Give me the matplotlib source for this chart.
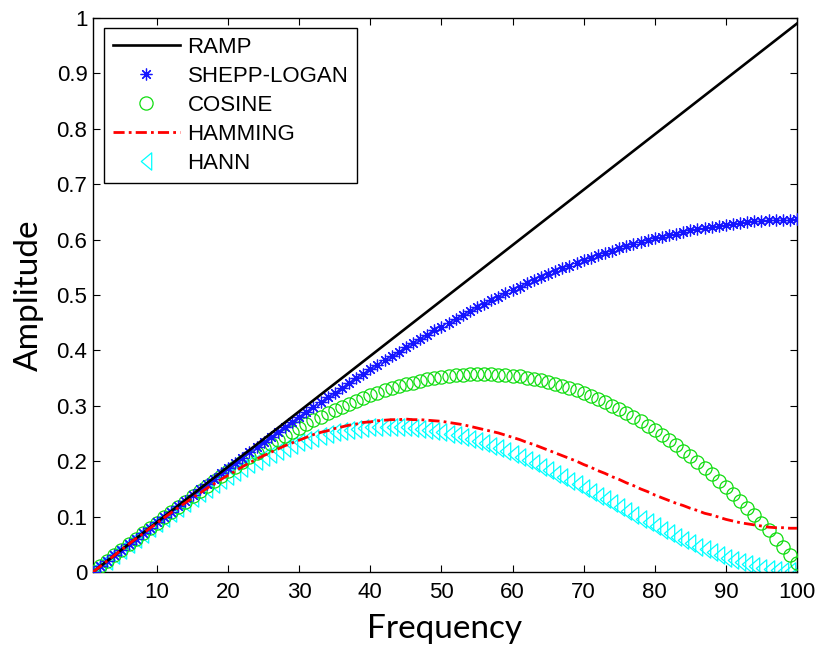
import matplotlib
matplotlib.use("Agg")
import matplotlib.pyplot as plt
from matplotlib.path import Path

freq = list(range(1, 101))

ramp = [0.00, 0.01, 0.02, 0.03, 0.04, 0.05, 0.06, 0.07, 0.08, 0.09,
        0.10, 0.11, 0.12, 0.13, 0.14, 0.15, 0.16, 0.17, 0.18, 0.19,
        0.20, 0.21, 0.22, 0.23, 0.24, 0.25, 0.26, 0.27, 0.28, 0.29,
        0.30, 0.31, 0.32, 0.33, 0.34, 0.35, 0.36, 0.37, 0.38, 0.39,
        0.40, 0.41, 0.42, 0.43, 0.44, 0.45, 0.46, 0.47, 0.48, 0.49,
        0.50, 0.51, 0.52, 0.53, 0.54, 0.55, 0.56, 0.57, 0.58, 0.59,
        0.60, 0.61, 0.62, 0.63, 0.64, 0.65, 0.66, 0.67, 0.68, 0.69,
        0.70, 0.71, 0.72, 0.73, 0.74, 0.75, 0.76, 0.77, 0.78, 0.79,
        0.80, 0.81, 0.82, 0.83, 0.84, 0.85, 0.86, 0.87, 0.88, 0.89,
        0.90, 0.91, 0.92, 0.93, 0.94, 0.95, 0.96, 0.97, 0.98, 0.99]

shepp_logan = [0.000, 0.010, 0.020, 0.030, 0.040, 0.050, 0.060, 0.070, 0.080, 0.090,
               0.100, 0.109, 0.119, 0.129, 0.139, 0.149, 0.158, 0.168, 0.178, 0.187,
               0.197, 0.206, 0.216, 0.225, 0.234, 0.244, 0.253, 0.262, 0.271, 0.280,
               0.289, 0.298, 0.307, 0.315, 0.324, 0.333, 0.341, 0.350, 0.358, 0.366,
               0.374, 0.382, 0.390, 0.398, 0.406, 0.413, 0.421, 0.428, 0.436, 0.443,
               0.450, 0.457, 0.464, 0.471, 0.478, 0.484, 0.491, 0.497, 0.503, 0.509,
               0.515, 0.521, 0.527, 0.532, 0.538, 0.543, 0.548, 0.553, 0.558, 0.563,
               0.567, 0.572, 0.576, 0.580, 0.584, 0.588, 0.592, 0.596, 0.599, 0.602,
               0.605, 0.608, 0.611, 0.614, 0.617, 0.619, 0.621, 0.623, 0.625, 0.627,
               0.629, 0.630, 0.632, 0.633, 0.634, 0.635, 0.635, 0.636, 0.636, 0.637]

cosine = [0.000, 0.010, 0.020, 0.030, 0.040, 0.050, 0.060, 0.070, 0.079, 0.089,
          0.099, 0.108, 0.118, 0.127, 0.137, 0.146, 0.155, 0.164, 0.173, 0.182,
          0.190, 0.199, 0.207, 0.215, 0.223, 0.231, 0.239, 0.246, 0.253, 0.260,
          0.267, 0.274, 0.280, 0.287, 0.293, 0.298, 0.304, 0.309, 0.314, 0.319,
          0.324, 0.328, 0.332, 0.336, 0.339, 0.342, 0.345, 0.348, 0.350, 0.352,
          0.354, 0.355, 0.356, 0.357, 0.357, 0.357, 0.357, 0.356, 0.355, 0.354,
          0.353, 0.351, 0.348, 0.346, 0.343, 0.340, 0.336, 0.332, 0.328, 0.323,
          0.318, 0.312, 0.307, 0.300, 0.294, 0.287, 0.280, 0.272, 0.264, 0.256,
          0.247, 0.238, 0.229, 0.219, 0.209, 0.198, 0.188, 0.176, 0.165, 0.153,
          0.141, 0.128, 0.115, 0.102, 0.088, 0.075, 0.060, 0.046, 0.031, 0.016]

hamming = [0.000, 0.010, 0.020, 0.030, 0.040, 0.050, 0.060, 0.069, 0.079, 0.088,
           0.098, 0.107, 0.116, 0.125, 0.134, 0.142, 0.151, 0.159, 0.167, 0.175,
           0.182, 0.190, 0.197, 0.204, 0.210, 0.216, 0.222, 0.228, 0.233, 0.238,
           0.243, 0.248, 0.252, 0.255, 0.259, 0.262, 0.265, 0.267, 0.270, 0.271,
           0.273, 0.274, 0.275, 0.275, 0.276, 0.275, 0.275, 0.274, 0.273, 0.272,
           0.270, 0.268, 0.266, 0.263, 0.260, 0.257, 0.254, 0.251, 0.247, 0.243,
           0.239, 0.234, 0.230, 0.225, 0.220, 0.215, 0.210, 0.205, 0.200, 0.194,
           0.189, 0.183, 0.178, 0.172, 0.167, 0.161, 0.156, 0.150, 0.145, 0.139,
           0.134, 0.129, 0.124, 0.120, 0.115, 0.111, 0.106, 0.103, 0.099, 0.095,
           0.092, 0.089, 0.087, 0.085, 0.083, 0.081, 0.080, 0.080, 0.079, 0.079]

hann = [0.000, 0.010, 0.020, 0.030, 0.040, 0.050, 0.059, 0.069, 0.079, 0.088,
        0.098, 0.107, 0.116, 0.125, 0.133, 0.142, 0.150, 0.158, 0.166, 0.174,
        0.181, 0.188, 0.195, 0.201, 0.207, 0.213, 0.219, 0.224, 0.229, 0.234,
        0.238, 0.242, 0.246, 0.249, 0.252, 0.254, 0.257, 0.258, 0.260, 0.261,
        0.262, 0.262, 0.262, 0.262, 0.261, 0.260, 0.259, 0.257, 0.255, 0.253,
        0.250, 0.247, 0.244, 0.240, 0.236, 0.232, 0.228, 0.223, 0.218, 0.213,
        0.207, 0.202, 0.196, 0.190, 0.184, 0.177, 0.171, 0.164, 0.158, 0.151,
        0.144, 0.137, 0.131, 0.124, 0.117, 0.110, 0.103, 0.096, 0.090, 0.083,
        0.076, 0.070, 0.064, 0.058, 0.052, 0.046, 0.041, 0.036, 0.031, 0.026,
        0.022, 0.018, 0.014, 0.011, 0.008, 0.006, 0.004, 0.002, 0.001, 0.000]

x_ticks = [10, 20, 30, 40, 50, 60, 70, 80, 90, 100]
y_ticks = [0, 0.1, 0.2, 0.3, 0.4, 0.5, 0.6, 0.7, 0.8, 0.9, 1]
y_tick_labels = ["0", "0.1", "0.2", "0.3", "0.4", "0.5", "0.6", "0.7", "0.8", "0.9", "1"]

plt.rcParams['font.family'] = ['Liberation Sans', 'DejaVu Sans']

# MATLAB-like left-pointing triangle (taller than wide)
tri_left = Path([(-0.6, 0.0), (0.6, 1.0), (0.6, -1.0), (-0.6, 0.0)],
                [Path.MOVETO, Path.LINETO, Path.LINETO, Path.CLOSEPOLY])

fig = plt.figure(figsize=(8.19, 6.47), dpi=100)
ax = fig.add_axes([93 / 819, 75 / 647, 704 / 819, 554 / 647])

ax.plot(freq, ramp, color='black', lw=1.9, label='RAMP', zorder=5)
ax.plot(freq, shepp_logan, linestyle='none', marker=(8, 2, 0), ms=8.5,
        mec='#1515ff', mew=0.9, label='SHEPP-LOGAN', zorder=4)
ax.plot(freq, cosine, linestyle='none', marker='o', ms=9.5, mfc='none',
        mec='#11dd11', mew=0.9, label='COSINE', zorder=3)
ax.plot(freq, hamming, color='red', lw=2.0, linestyle=(0, (4, 1.5, 1, 1.5)),
        label='HAMMING', zorder=6)
ax.plot(freq, hann, linestyle='none', marker=tri_left, ms=12.5, mfc='none',
        mec='#00ffff', mew=0.9, label='HANN', zorder=2)

ax.set_xlim(1, 100)
ax.set_ylim(0, 1)
ax.set_xticks(x_ticks)
ax.set_yticks(y_ticks)
ax.set_yticklabels(y_tick_labels)
ax.tick_params(direction='in', length=5, width=0.8, top=True, right=True,
               labelsize=16)
ax.tick_params(axis='x', pad=7)
ax.tick_params(axis='y', pad=4)
for s in ax.spines.values():
    s.set_linewidth(1.0)

ax.set_xlabel('Frequency', fontsize=24, family=['Lato', 'DejaVu Sans'], labelpad=8)
ax.set_ylabel('Amplitude', fontsize=24, family=['Lato', 'DejaVu Sans'], labelpad=9)

leg = ax.legend(loc='upper left', bbox_to_anchor=(11 / 704, 544 / 554), borderaxespad=0,
                fontsize=16, frameon=True, fancybox=False, edgecolor='black',
                framealpha=1, handlelength=3.0, handletextpad=0.36,
                labelspacing=0.36, borderpad=0.4, numpoints=1)
leg.get_frame().set_linewidth(1.0)

fig.savefig('out.png', dpi=100)
